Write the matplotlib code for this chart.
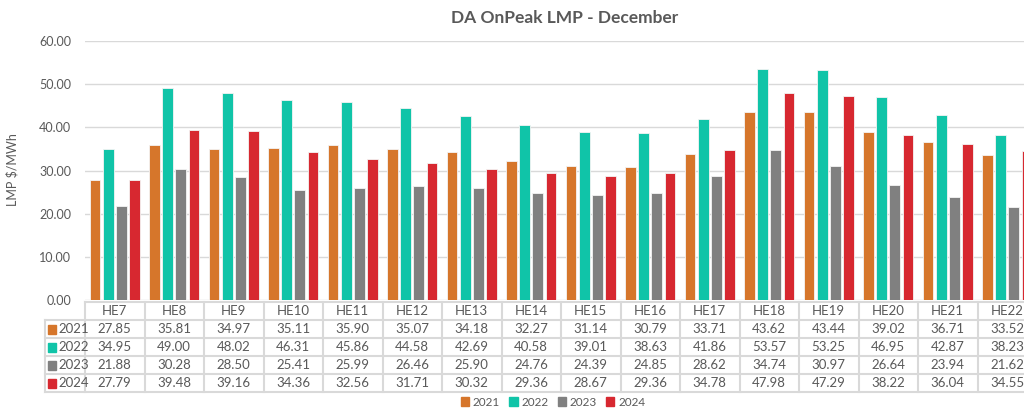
import matplotlib.pyplot as plt
from matplotlib.patches import Patch
import numpy as np

plt.rcParams['font.family'] = ['Lato', 'DejaVu Sans']

# data
hours = ['HE7', 'HE8', 'HE9', 'HE10', 'HE11', 'HE12', 'HE13', 'HE14',
         'HE15', 'HE16', 'HE17', 'HE18', 'HE19', 'HE20', 'HE21', 'HE22']
years = ['2021', '2022', '2023', '2024']
lmp_2021 = [27.85, 35.81, 34.97, 35.11, 35.90, 35.07, 34.18, 32.27,
            31.14, 30.79, 33.71, 43.62, 43.44, 39.02, 36.71, 33.52]
lmp_2022 = [34.95, 49.00, 48.02, 46.31, 45.86, 44.58, 42.69, 40.58,
            39.01, 38.63, 41.86, 53.57, 53.25, 46.95, 42.87, 38.23]
lmp_2023 = [21.88, 30.28, 28.50, 25.41, 25.99, 26.46, 25.90, 24.76,
            24.39, 24.85, 28.62, 34.74, 30.97, 26.64, 23.94, 21.62]
lmp_2024 = [27.79, 39.48, 39.16, 34.36, 32.56, 31.71, 30.32, 29.36,
            28.67, 29.36, 34.78, 47.98, 47.29, 38.22, 36.04, 34.55]
colors = ['#D6762B', '#10C4A8', '#808080', '#D72830']

series = [lmp_2021, lmp_2022, lmp_2023, lmp_2024]
txt = '#595959'
grid = '#D9D9D9'
W, H = 1024, 408

fig = plt.figure(figsize=(W / 100, H / 100), dpi=100)

# main bar axes (runs off the right edge like the original)
ax = fig.add_axes([85 / W, 1 - 300 / H, 952 / W, 259 / H])
x = np.arange(len(hours))
bw = 0.18
step = 0.22
for i, (vals, c) in enumerate(zip(series, colors)):
    ax.bar(x + (i - 1.5) * step, vals, width=bw, color=c,
           edgecolor='#F4F4F4', linewidth=0.6, zorder=3)
ax.set_xlim(-0.5, len(hours) - 0.5)
ax.set_ylim(0, 60)
ax.set_yticks(np.arange(0, 61, 10))
ax.set_yticklabels([f'{v:.2f}' for v in np.arange(0, 61, 10)],
                   fontsize=9, color=txt)
ax.set_xticks([])
ax.tick_params(axis='y', length=0, pad=10)
ax.grid(axis='y', color=grid, linewidth=1, zorder=0)
for s in ax.spines.values():
    s.set_visible(False)
fig.text(12 / W, 1 - 170 / H, 'LMP $/MWh', rotation=90, ha='center',
         va='center', fontsize=9, color=txt)
fig.text(565 / W, 1 - 18 / H, 'DA OnPeak LMP - December', ha='center',
         va='center', fontsize=12.5, fontweight='bold', color=txt)

# data table
tax = fig.add_axes([85 / W, 1 - 392 / H, 952 / W, 90 / H])
tax.set_xlim(-0.5, len(hours) - 0.5)
tax.set_ylim(5, 0)
tax.axis('off')
lab_left = -0.5 - 40 / 59.5
for r in range(6):
    x0 = -0.5 if r == 0 else lab_left
    tax.plot([x0, len(hours) - 0.5], [r, r], color=grid, lw=1.5,
             clip_on=False)
for k in range(len(hours) + 1):
    tax.plot([k - 0.5, k - 0.5], [0, 5], color=grid, lw=1.5, clip_on=False)
tax.plot([lab_left, lab_left], [1, 5], color=grid, lw=1.5, clip_on=False)
for k, h in enumerate(hours):
    tax.text(k, 0.5, h, ha='center', va='center', fontsize=9.5, color=txt)
    for r, vals in enumerate(series):
        tax.text(k, r + 1.5, f'{vals[k]:.2f}', ha='center', va='center',
                 fontsize=9.5, color=txt)
for r, (y, c) in enumerate(zip(years, colors)):
    tax.add_patch(plt.Rectangle((lab_left + 0.05, r + 1.25), 0.13, 0.5,
                                color=c, clip_on=False))
    tax.text(lab_left + 0.22, r + 1.5, y, ha='left', va='center',
             fontsize=9.5, color=txt, clip_on=False)

# legend at the bottom
handles = [Patch(color=c, label=y) for y, c in zip(years, colors)]
fig.legend(handles=handles, loc='center', bbox_to_anchor=(553 / W, 1 - 402 / H),
           ncol=4, frameon=False, fontsize=8.5, handlelength=0.7,
           handleheight=0.7, handletextpad=0.3, columnspacing=0.8,
           labelcolor=txt)

fig.savefig('out.png', dpi=100)
